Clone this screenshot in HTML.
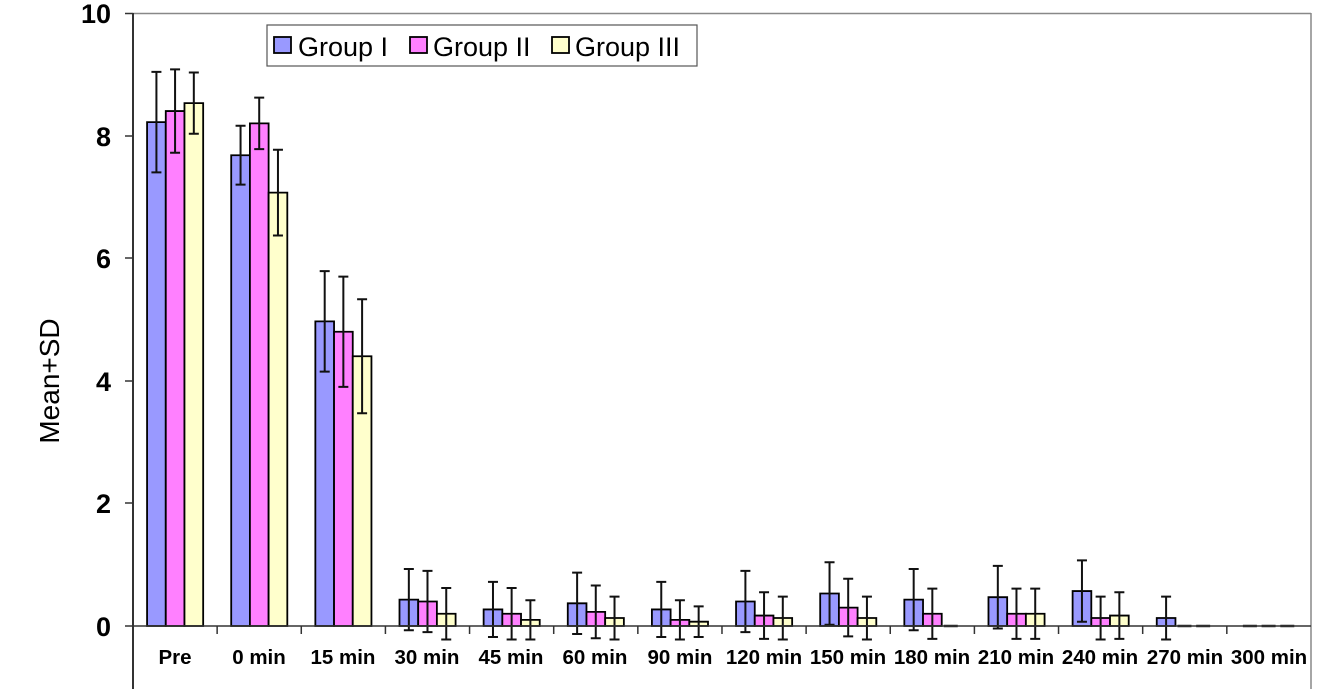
<!DOCTYPE html>
<html><head><meta charset="utf-8"><style>
html,body{margin:0;padding:0;background:#fff;}
svg{display:block;font-family:"Liberation Sans",Arial,sans-serif;}
.b rect{stroke:#000;stroke-width:1.8;vector-effect:non-scaling-stroke;}
.b path{stroke:#111;stroke-width:2;fill:none;vector-effect:non-scaling-stroke;}
.b line{stroke:#222;stroke-width:2.5;vector-effect:non-scaling-stroke;}
.g1{fill:#9999ff}.g2{fill:#ff80ff}.g3{fill:#ffffcc}
</style></head><body>
<svg width="1334" height="689" viewBox="0 0 1334 689" xmlns="http://www.w3.org/2000/svg">
<rect width="1334" height="689" fill="#fff"/>
<line x1="133" y1="13.5" x2="1311" y2="13.5" stroke="#888" stroke-width="1.5"/>
<line x1="1311" y1="13" x2="1311" y2="689" stroke="#888" stroke-width="1.5"/>
<line x1="133" y1="13" x2="133" y2="689" stroke="#333" stroke-width="2"/>
<g stroke="#333" stroke-width="1.5">
<line x1="125" y1="13.5" x2="133" y2="13.5"/><line x1="125" y1="136" x2="133" y2="136"/>
<line x1="125" y1="258" x2="133" y2="258"/><line x1="125" y1="381" x2="133" y2="381"/>
<line x1="125" y1="503" x2="133" y2="503"/>
<line x1="217.14" y1="626" x2="217.14" y2="634"/><line x1="301.28" y1="626" x2="301.28" y2="634"/>
<line x1="385.42" y1="626" x2="385.42" y2="634"/><line x1="469.56" y1="626" x2="469.56" y2="634"/>
<line x1="553.7" y1="626" x2="553.7" y2="634"/><line x1="637.84" y1="626" x2="637.84" y2="634"/>
<line x1="721.98" y1="626" x2="721.98" y2="634"/><line x1="806.12" y1="626" x2="806.12" y2="634"/>
<line x1="890.26" y1="626" x2="890.26" y2="634"/><line x1="974.4" y1="626" x2="974.4" y2="634"/>
<line x1="1058.54" y1="626" x2="1058.54" y2="634"/><line x1="1142.68" y1="626" x2="1142.68" y2="634"/>
<line x1="1226.82" y1="626" x2="1226.82" y2="634"/>
</g>
<g font-size="27" font-weight="bold" text-anchor="end" fill="#000">
<text x="111" y="23">10</text><text x="111" y="146">8</text><text x="111" y="268">6</text>
<text x="111" y="391">4</text><text x="111" y="513">2</text><text x="111" y="636">0</text>
</g>
<text transform="translate(59,381) rotate(-90)" font-size="28" text-anchor="middle">Mean+SD</text>

<g class="b" transform="translate(175.07,626) scale(1,-61.3)">
<rect class="g1" x="-28" y="0" width="18.7" height="8.22"/><rect class="g2" x="-9.3" y="0" width="18.7" height="8.4"/><rect class="g3" x="9.4" y="0" width="18.7" height="8.53"/>
<path d="M-18.65 7.4V9.04M-23.65 9.04H-13.65M-23.65 7.4H-13.65M0 7.72V9.08M-5 9.08H5M-5 7.72H5M18.75 8.03V9.03M13.75 9.03H23.75M13.75 8.03H23.75"/>
</g>
<g class="b" transform="translate(259.21,626) scale(1,-61.3)">
<rect class="g1" x="-28" y="0" width="18.7" height="7.68"/><rect class="g2" x="-9.3" y="0" width="18.7" height="8.2"/><rect class="g3" x="9.4" y="0" width="18.7" height="7.07"/>
<path d="M-18.65 7.2V8.16M-23.65 8.16H-13.65M-23.65 7.2H-13.65M0 7.78V8.62M-5 8.62H5M-5 7.78H5M18.75 6.37V7.77M13.75 7.77H23.75M13.75 6.37H23.75"/>
</g>
<g class="b" transform="translate(343.35,626) scale(1,-61.3)">
<rect class="g1" x="-28" y="0" width="18.7" height="4.97"/><rect class="g2" x="-9.3" y="0" width="18.7" height="4.8"/><rect class="g3" x="9.4" y="0" width="18.7" height="4.4"/>
<path d="M-18.65 4.15V5.79M-23.65 5.79H-13.65M-23.65 4.15H-13.65M0 3.9V5.7M-5 5.7H5M-5 3.9H5M18.75 3.47V5.33M13.75 5.33H23.75M13.75 3.47H23.75"/>
</g>
<g class="b" transform="translate(427.49,626) scale(1,-61.3)">
<rect class="g1" x="-28" y="0" width="18.7" height="0.43"/><rect class="g2" x="-9.3" y="0" width="18.7" height="0.4"/><rect class="g3" x="9.4" y="0" width="18.7" height="0.2"/>
<path d="M-18.65 -0.07V0.93M-23.65 0.93H-13.65M-23.65 -0.07H-13.65M0 -0.1V0.9M-5 0.9H5M-5 -0.1H5M18.75 -0.22V0.62M13.75 0.62H23.75M13.75 -0.22H23.75"/>
</g>
<g class="b" transform="translate(511.63,626) scale(1,-61.3)">
<rect class="g1" x="-28" y="0" width="18.7" height="0.27"/><rect class="g2" x="-9.3" y="0" width="18.7" height="0.2"/><rect class="g3" x="9.4" y="0" width="18.7" height="0.1"/>
<path d="M-18.65 -0.18V0.72M-23.65 0.72H-13.65M-23.65 -0.18H-13.65M0 -0.22V0.62M-5 0.62H5M-5 -0.22H5M18.75 -0.22V0.42M13.75 0.42H23.75M13.75 -0.22H23.75"/>
</g>
<g class="b" transform="translate(595.77,626) scale(1,-61.3)">
<rect class="g1" x="-28" y="0" width="18.7" height="0.37"/><rect class="g2" x="-9.3" y="0" width="18.7" height="0.23"/><rect class="g3" x="9.4" y="0" width="18.7" height="0.13"/>
<path d="M-18.65 -0.13V0.87M-23.65 0.87H-13.65M-23.65 -0.13H-13.65M0 -0.2V0.66M-5 0.66H5M-5 -0.2H5M18.75 -0.22V0.48M13.75 0.48H23.75M13.75 -0.22H23.75"/>
</g>
<g class="b" transform="translate(679.91,626) scale(1,-61.3)">
<rect class="g1" x="-28" y="0" width="18.7" height="0.27"/><rect class="g2" x="-9.3" y="0" width="18.7" height="0.1"/><rect class="g3" x="9.4" y="0" width="18.7" height="0.07"/>
<path d="M-18.65 -0.18V0.72M-23.65 0.72H-13.65M-23.65 -0.18H-13.65M0 -0.22V0.42M-5 0.42H5M-5 -0.22H5M18.75 -0.18V0.32M13.75 0.32H23.75M13.75 -0.18H23.75"/>
</g>
<g class="b" transform="translate(764.05,626) scale(1,-61.3)">
<rect class="g1" x="-28" y="0" width="18.7" height="0.4"/><rect class="g2" x="-9.3" y="0" width="18.7" height="0.17"/><rect class="g3" x="9.4" y="0" width="18.7" height="0.13"/>
<path d="M-18.65 -0.1V0.9M-23.65 0.9H-13.65M-23.65 -0.1H-13.65M0 -0.21V0.55M-5 0.55H5M-5 -0.21H5M18.75 -0.22V0.48M13.75 0.48H23.75M13.75 -0.22H23.75"/>
</g>
<g class="b" transform="translate(848.19,626) scale(1,-61.3)">
<rect class="g1" x="-28" y="0" width="18.7" height="0.53"/><rect class="g2" x="-9.3" y="0" width="18.7" height="0.3"/><rect class="g3" x="9.4" y="0" width="18.7" height="0.13"/>
<path d="M-18.65 0.02V1.04M-23.65 1.04H-13.65M-23.65 0.02H-13.65M0 -0.17V0.77M-5 0.77H5M-5 -0.17H5M18.75 -0.22V0.48M13.75 0.48H23.75M13.75 -0.22H23.75"/>
</g>
<g class="b" transform="translate(932.33,626) scale(1,-61.3)">
<rect class="g1" x="-28" y="0" width="18.7" height="0.43"/><rect class="g2" x="-9.3" y="0" width="18.7" height="0.2"/>
<line x1="11.4" y1="0" x2="25.4" y2="0"/>
<path d="M-18.65 -0.07V0.93M-23.65 0.93H-13.65M-23.65 -0.07H-13.65M0 -0.21V0.61M-5 0.61H5M-5 -0.21H5"/>
</g>
<g class="b" transform="translate(1016.47,626) scale(1,-61.3)">
<rect class="g1" x="-28" y="0" width="18.7" height="0.47"/><rect class="g2" x="-9.3" y="0" width="18.7" height="0.2"/><rect class="g3" x="9.4" y="0" width="18.7" height="0.2"/>
<path d="M-18.65 -0.04V0.98M-23.65 0.98H-13.65M-23.65 -0.04H-13.65M0 -0.21V0.61M-5 0.61H5M-5 -0.21H5M18.75 -0.21V0.61M13.75 0.61H23.75M13.75 -0.21H23.75"/>
</g>
<g class="b" transform="translate(1100.61,626) scale(1,-61.3)">
<rect class="g1" x="-28" y="0" width="18.7" height="0.57"/><rect class="g2" x="-9.3" y="0" width="18.7" height="0.13"/><rect class="g3" x="9.4" y="0" width="18.7" height="0.17"/>
<path d="M-18.65 0.07V1.07M-23.65 1.07H-13.65M-23.65 0.07H-13.65M0 -0.22V0.48M-5 0.48H5M-5 -0.22H5M18.75 -0.21V0.55M13.75 0.55H23.75M13.75 -0.21H23.75"/>
</g>
<g class="b" transform="translate(1184.75,626) scale(1,-61.3)">
<rect class="g1" x="-28" y="0" width="18.7" height="0.13"/>
<line x1="-7.3" y1="0" x2="6.7" y2="0"/><line x1="11.4" y1="0" x2="25.4" y2="0"/>
<path d="M-18.65 -0.22V0.48M-23.65 0.48H-13.65M-23.65 -0.22H-13.65"/>
</g>
<g class="b" transform="translate(1268.89,626) scale(1,-61.3)">
<line x1="-26" y1="0" x2="-12" y2="0"/><line x1="-7.3" y1="0" x2="6.7" y2="0"/><line x1="11.4" y1="0" x2="25.4" y2="0"/>
</g>
<line x1="125" y1="626" x2="1311" y2="626" stroke="#333" stroke-width="1.5"/>

<g font-size="20.5" font-weight="bold" text-anchor="middle">
<text x="175" y="664">Pre</text><text x="259" y="664">0 min</text><text x="343" y="664">15 min</text>
<text x="427" y="664">30 min</text><text x="511" y="664">45 min</text><text x="595" y="664">60 min</text>
<text x="680" y="664">90 min</text><text x="764" y="664">120 min</text><text x="848" y="664">150 min</text>
<text x="932" y="664">180 min</text><text x="1016" y="664">210 min</text><text x="1100" y="664">240 min</text>
<text x="1185" y="664">270 min</text><text x="1269" y="664">300 min</text>
</g>
<rect x="267" y="25" width="430" height="41" fill="#fff" stroke="#555" stroke-width="1.2"/>
<rect x="274" y="37" width="17" height="16" fill="#9999ff" stroke="#000" stroke-width="1.8"/>
<rect x="410" y="37" width="17" height="16" fill="#ff80ff" stroke="#000" stroke-width="1.8"/>
<rect x="552" y="37" width="17" height="16" fill="#ffffcc" stroke="#000" stroke-width="1.8"/>
<g font-size="27"><text x="298" y="56">Group I</text><text x="433" y="56">Group II</text><text x="575" y="56">Group III</text></g>
</svg>
</body></html>
